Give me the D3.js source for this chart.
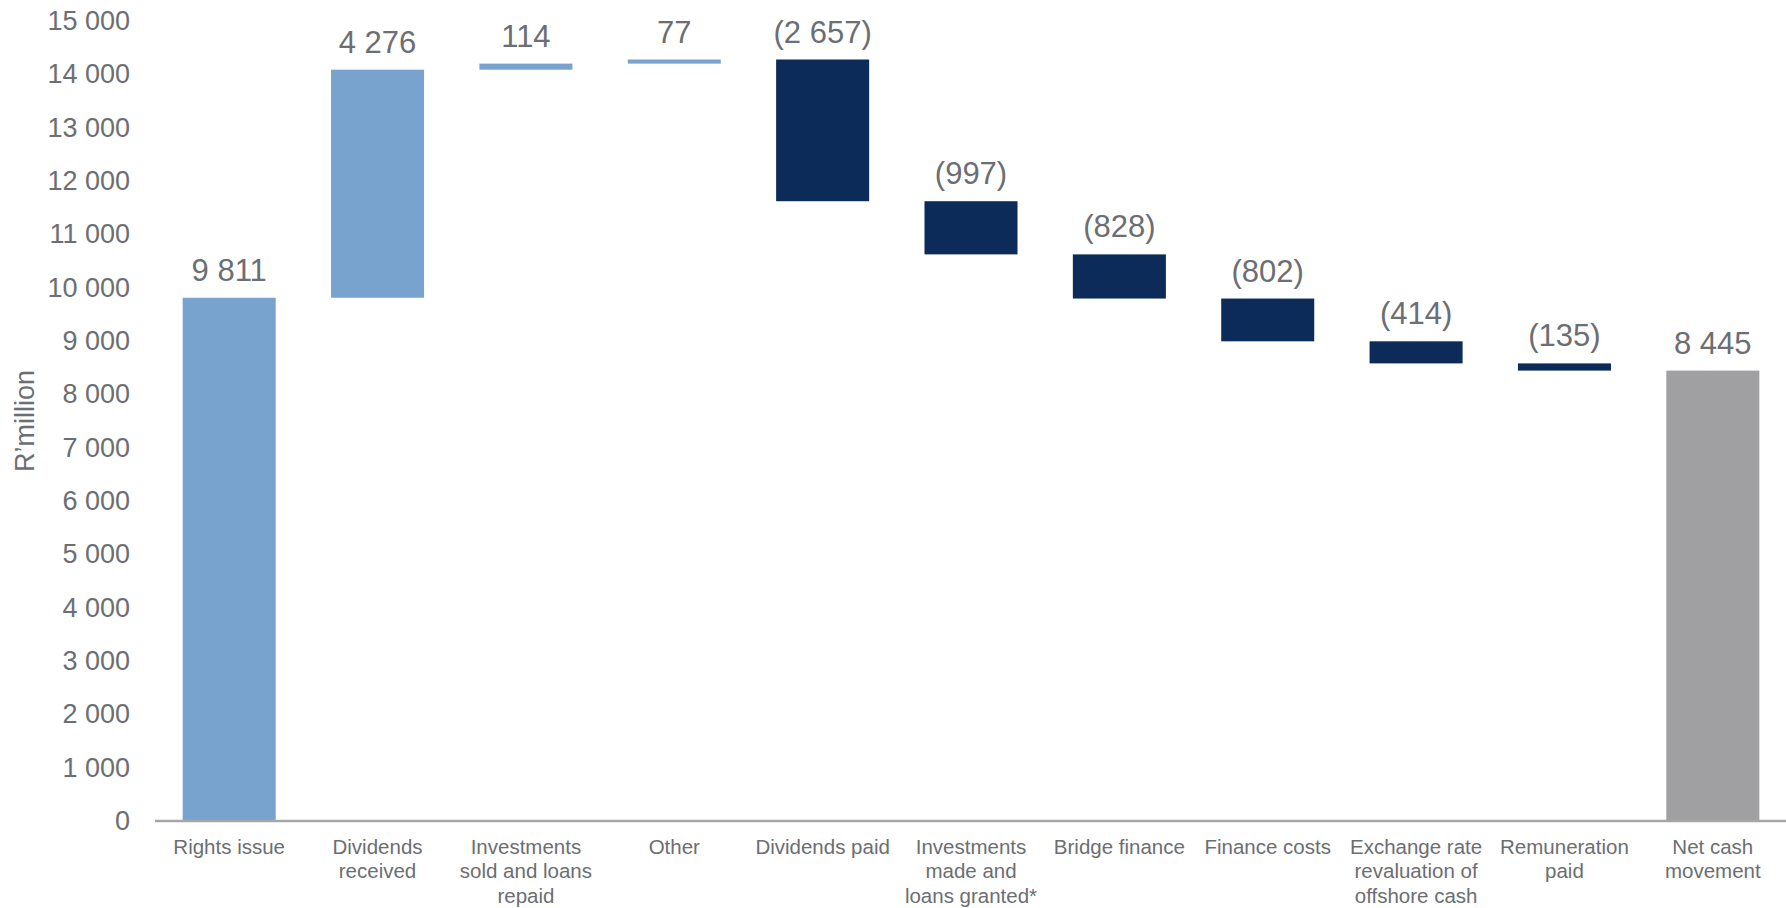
<!DOCTYPE html>
<html>
<head>
<meta charset="utf-8">
<script src="https://cdn.jsdelivr.net/npm/d3@7"></script>
<style>
  html, body { margin: 0; padding: 0; background: #ffffff; }
  svg { display: block; }
  text { font-family: "Liberation Sans", Arial, sans-serif; }
</style>
</head>
<body>
<svg id="chart" width="1786" height="908"></svg>
<script>
// Cash flow bridge (R'million)
const categories = [
  ["Rights issue"],
  ["Dividends", "received"],
  ["Investments", "sold and loans", "repaid"],
  ["Other"],
  ["Dividends paid"],
  ["Investments", "made and", "loans granted*"],
  ["Bridge finance"],
  ["Finance costs"],
  ["Exchange rate", "revaluation of", "offshore cash"],
  ["Remuneration", "paid"],
  ["Net cash", "movement"]
];
const movements = [9811, 4276, 114, 77, -2657, -997, -828, -802, -414, -135];
const netTotal = 8445;
const yTicks = [0, 1000, 2000, 3000, 4000, 5000, 6000, 7000, 8000, 9000, 10000, 11000, 12000, 13000, 14000, 15000];
const yTitle = "R\u2019million";

const colors = { up: "#78a3cf", down: "#0c2b58", total: "#a0a0a2", text: "#6b6e72", axis: "#a6a6a6" };

// Build floating segments from running totals
const steps = [];
let running = 0;
movements.forEach((v, i) => {
  const start = running;
  running += v;
  steps.push({ idx: i, value: v, y0: Math.min(start, running), y1: Math.max(start, running), kind: v >= 0 ? "up" : "down" });
});
steps.push({ idx: categories.length - 1, value: netTotal, y0: 0, y1: netTotal, kind: "total" });

const svg = d3.select("#chart");

const x = d3.scaleBand()
  .domain(d3.range(categories.length))
  .range([155, 1787])
  .paddingInner(0.373)
  .paddingOuter(0.1865);

const y = d3.scaleLinear().domain([0, 15000]).range([821, 21]);

const fmtNum = v => d3.format(",")(Math.abs(v)).replace(/,/g, " ");
const fmtLabel = v => v < 0 ? "(" + fmtNum(v) + ")" : fmtNum(v);

// Y axis (labels only)
const yAxis = d3.axisLeft(y).tickValues(yTicks).tickSize(0).tickPadding(0).tickFormat(fmtNum);
const yg = svg.append("g").attr("transform", "translate(130,0)").call(yAxis);
yg.select(".domain").remove();
yg.selectAll("text")
  .attr("font-size", 27)
  .attr("fill", colors.text)
  .attr("font-family", "'Liberation Sans', Arial, sans-serif");

// Y axis title
svg.append("text")
  .attr("transform", `translate(34,${(y(0) + y(15000)) / 2}) rotate(-90)`)
  .attr("text-anchor", "middle")
  .attr("font-size", 27)
  .attr("fill", colors.text)
  .text(yTitle);

// Bars
svg.append("g").selectAll("rect")
  .data(steps)
  .join("rect")
  .attr("x", d => x(d.idx))
  .attr("width", x.bandwidth())
  .attr("y", d => y(d.y1))
  .attr("height", d => y(d.y0) - y(d.y1))
  .attr("fill", d => colors[d.kind]);

// Value labels
svg.append("g").selectAll("text")
  .data(steps)
  .join("text")
  .attr("x", d => x(d.idx) + x.bandwidth() / 2)
  .attr("y", d => y(d.y1) - 17)
  .attr("text-anchor", "middle")
  .attr("font-size", 31)
  .attr("fill", colors.text)
  .text(d => fmtLabel(d.value));

// Category axis
const xAxis = d3.axisBottom(x).tickSize(0).tickFormat("");
const xg = svg.append("g").attr("transform", `translate(0,${y(0)})`).call(xAxis);
xg.select(".domain").remove();
svg.append("line")
  .attr("x1", 155).attr("x2", 1786)
  .attr("y1", y(0)).attr("y2", y(0))
  .attr("stroke", colors.axis)
  .attr("stroke-width", 2.5);

const catG = svg.append("g").selectAll("text")
  .data(categories)
  .join("text")
  .attr("x", (d, i) => x(i) + x.bandwidth() / 2)
  .attr("y", y(0) + 33)
  .attr("text-anchor", "middle")
  .attr("font-size", 20.5)
  .attr("fill", colors.text);
catG.selectAll("tspan")
  .data(d => d)
  .join("tspan")
  .attr("x", function () { return d3.select(this.parentNode).attr("x"); })
  .attr("dy", (d, i) => i === 0 ? 0 : 24.3)
  .text(d => d);
</script>
</body>
</html>
